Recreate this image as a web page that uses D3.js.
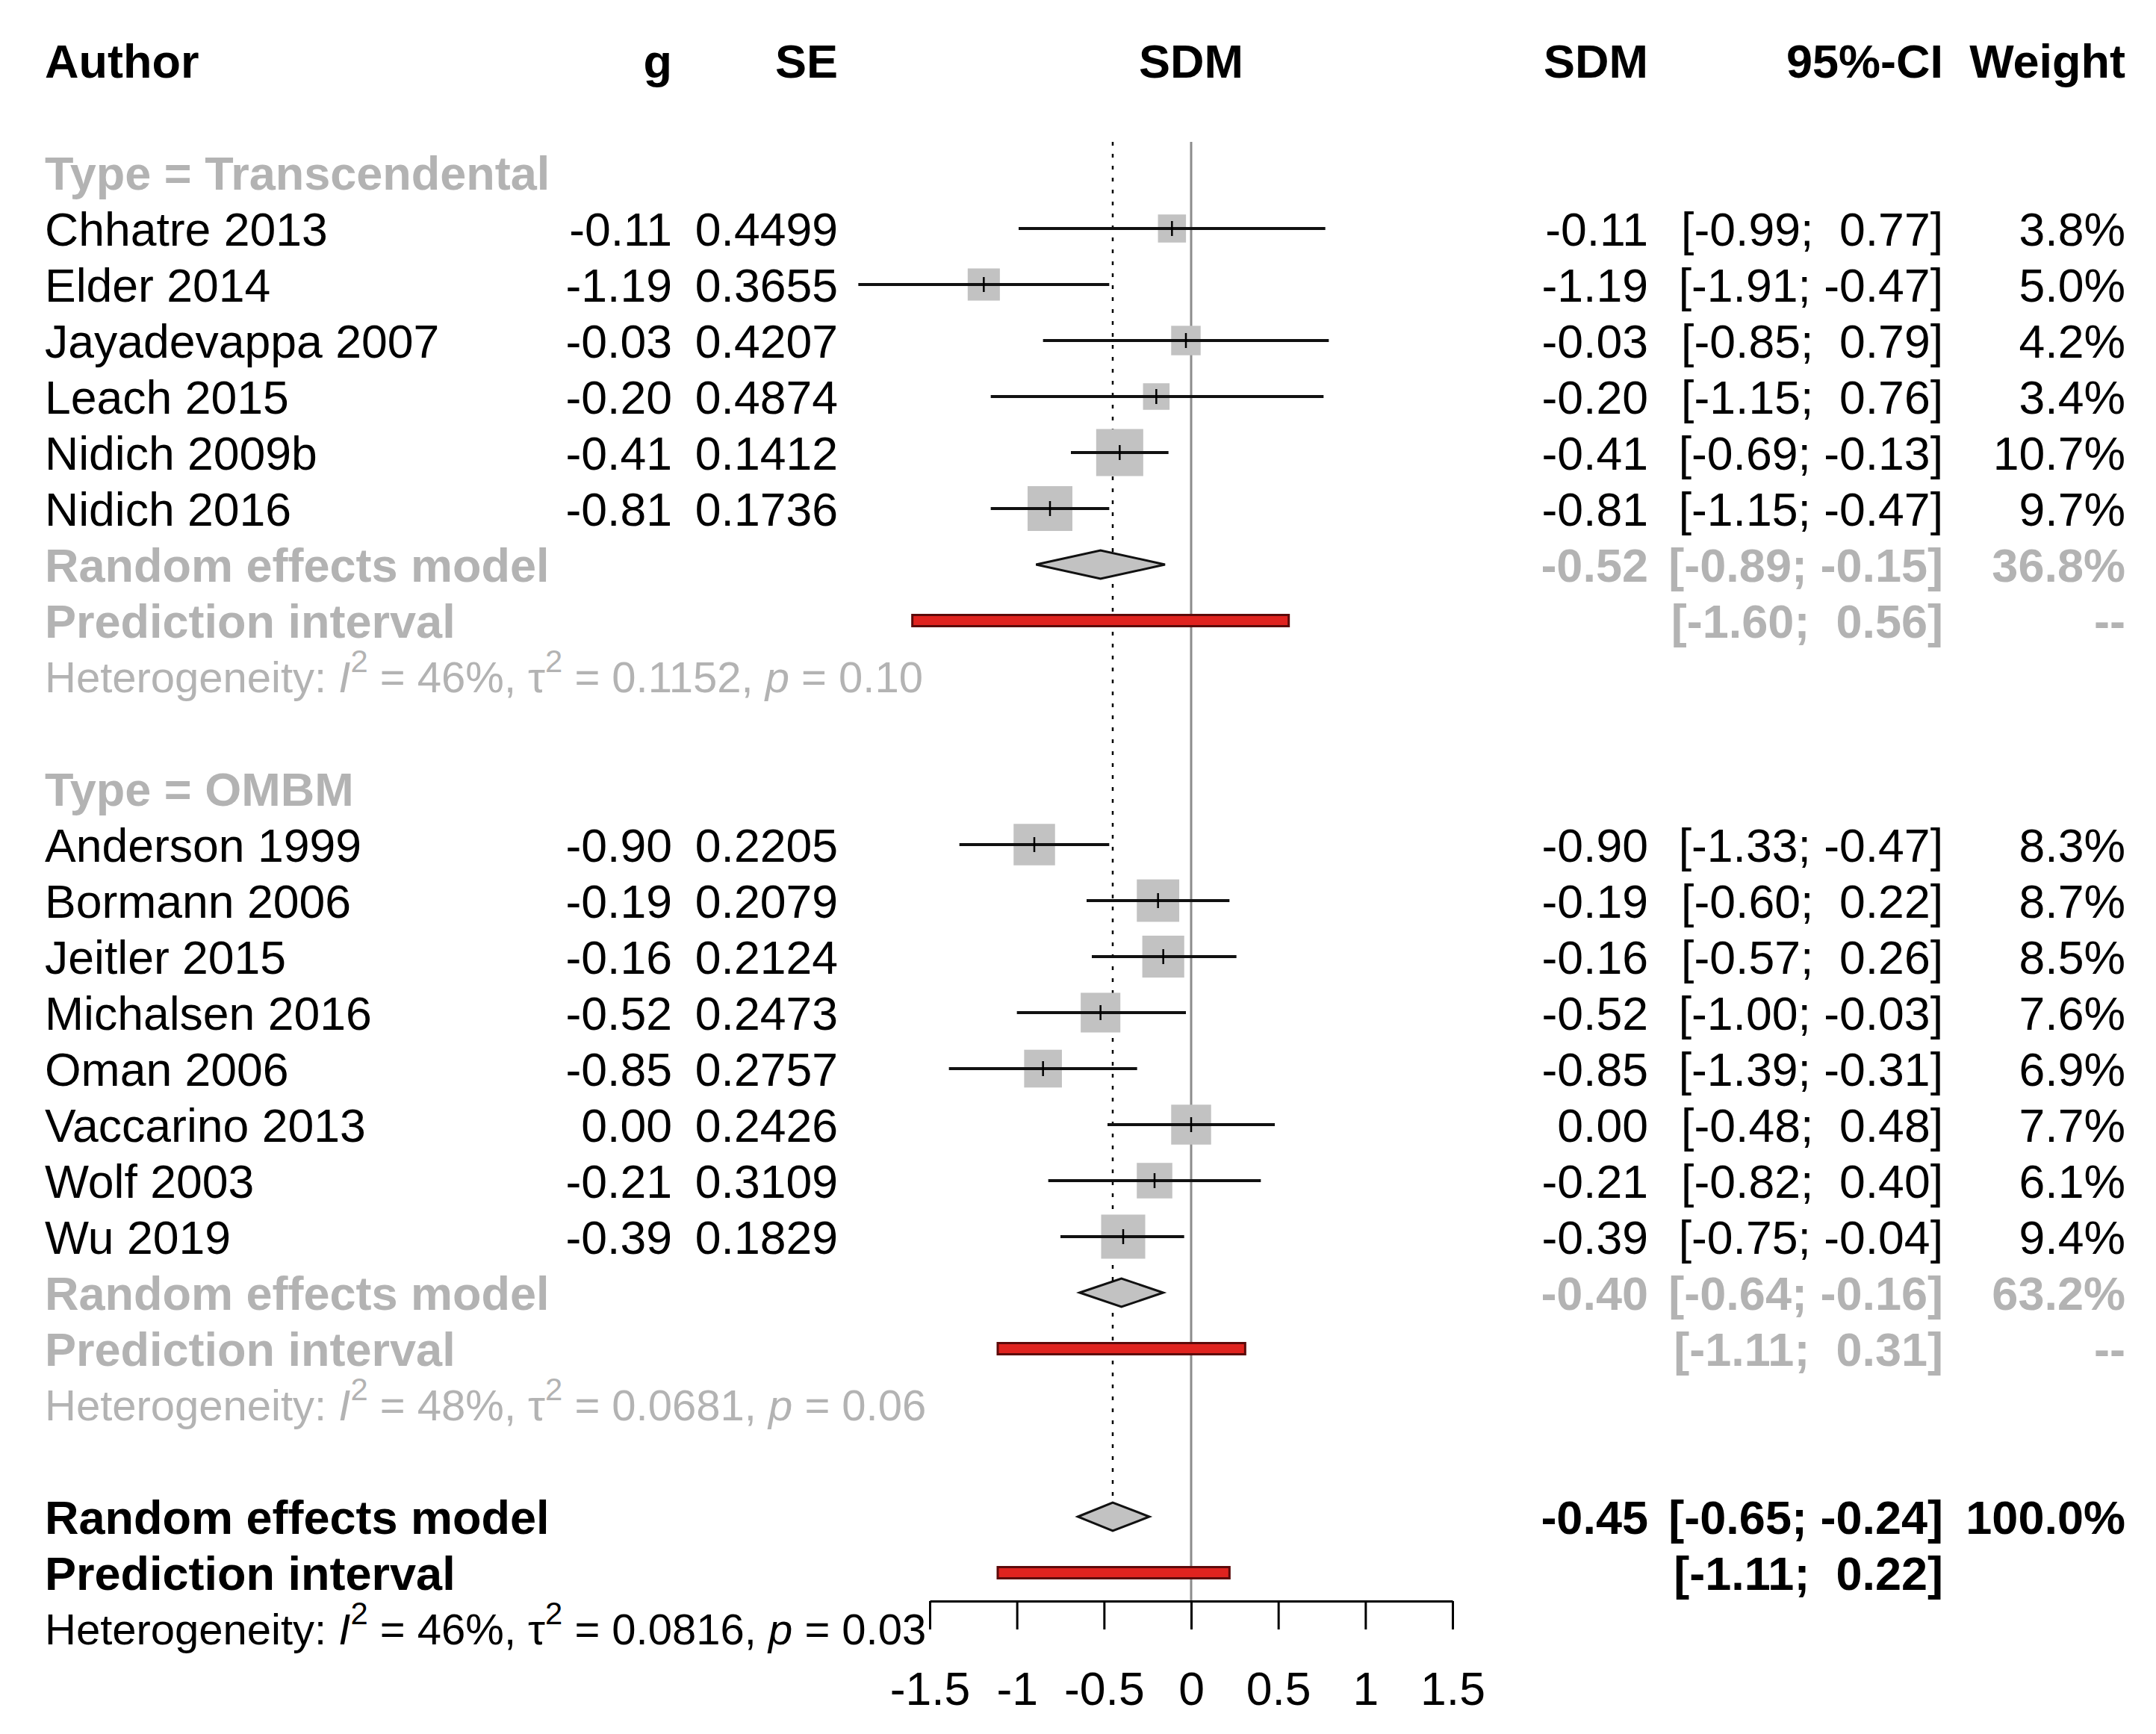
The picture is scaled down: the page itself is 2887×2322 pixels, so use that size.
<!DOCTYPE html>
<html>
<head>
<meta charset="utf-8">
<script src="https://cdn.jsdelivr.net/npm/d3@7"></script>
<style>
  body { margin: 0; background: #fff; }
  text { font-family: "Liberation Sans", Arial, sans-serif; white-space: pre; }
</style>
</head>
<body>
<svg id="forest"></svg>
<script>
// study level data
var authors = ["Chhatre 2013", "Elder 2014", "Jayadevappa 2007", "Leach 2015", "Nidich 2009b", "Nidich 2016",
               "Anderson 1999", "Bormann 2006", "Jeitler 2015", "Michalsen 2016", "Oman 2006", "Vaccarino 2013", "Wolf 2003", "Wu 2019"];
var gVals   = [-0.11, -1.19, -0.03, -0.20, -0.41, -0.81, -0.90, -0.19, -0.16, -0.52, -0.85, 0.00, -0.21, -0.39];
var seVals  = [0.4499, 0.3655, 0.4207, 0.4874, 0.1412, 0.1736, 0.2205, 0.2079, 0.2124, 0.2473, 0.2757, 0.2426, 0.3109, 0.1829];
var ciLow   = [-0.99, -1.91, -0.85, -1.15, -0.69, -1.15, -1.33, -0.60, -0.57, -1.00, -1.39, -0.48, -0.82, -0.75];
var ciHigh  = [0.77, -0.47, 0.79, 0.76, -0.13, -0.47, -0.47, 0.22, 0.26, -0.03, -0.31, 0.48, 0.40, -0.04];
var weights = [3.8, 5.0, 4.2, 3.4, 10.7, 9.7, 8.3, 8.7, 8.5, 7.6, 6.9, 7.7, 6.1, 9.4];
var groupOf = [0, 0, 0, 0, 0, 0, 1, 1, 1, 1, 1, 1, 1, 1];

// subgroup summaries
var groupNames  = ["Transcendental", "OMBM"];
var groupEst    = [-0.52, -0.40];
var groupLow    = [-0.89, -0.64];
var groupHigh   = [-0.15, -0.16];
var groupWeight = [36.8, 63.2];
var groupPredLo = [-1.60, -1.11];
var groupPredHi = [0.56, 0.31];
var groupI2     = ["46%", "48%"];
var groupTau2   = ["0.1152", "0.0681"];
var groupP      = ["0.10", "0.06"];

// overall
var overallEst = -0.45, overallLow = -0.65, overallHigh = -0.24;
var overallPred = [-1.11, 0.22];
var overallHet = ["46%", "0.0816", "0.03"];

var xTicks = [-1.5, -1, -0.5, 0, 0.5, 1, 1.5];

var W = 2887, H = 2322;
var fs = 62.5, fsBold = 63, fsHet = 58;
var grey = "#b3b3b3";

var svg = d3.select("#forest").attr("width", W).attr("height", H);
svg.append("rect").attr("width", W).attr("height", H).attr("fill", "#fff");

var x = d3.scaleLinear().domain([-1.5, 1.5]).range([1245, 1945]);
var y = d3.scaleLinear().domain([0, 28]).range([81, 2181]);

// column anchors
var colAuthor = 60, colG = 900, colSE = 1122, colSDM = 2207, colCI = 2602, colW = 2846;
var axisY = 2144;

function fmt2(v) { return d3.format(".2f")(v).replace("\u2212", "-"); }
function pad5(v) { var s = fmt2(v); return s.length < 5 ? " " + s : s; }
function ciStr(lo, hi) { return "[" + pad5(lo) + "; " + pad5(hi) + "]"; }

function txt(xp, row, s, opt) {
  opt = opt || {};
  var size = opt.bold ? fsBold : fs;
  return svg.append("text")
    .attr("x", xp)
    .attr("y", y(row) + 0.36 * size)
    .attr("text-anchor", opt.anchor || "start")
    .attr("font-size", size)
    .attr("font-weight", opt.bold ? "bold" : "normal")
    .attr("fill", opt.color || "#000")
    .text(s);
}

function hetText(row, i2, tau2, p, color) {
  var t = svg.append("text")
    .attr("x", colAuthor)
    .attr("y", y(row) + 0.36 * fsHet)
    .attr("font-size", fsHet)
    .attr("fill", color);
  t.append("tspan").text("Heterogeneity: ");
  t.append("tspan").attr("font-style", "italic").text("I");
  t.append("tspan").attr("font-size", fsHet * 0.72).attr("dy", -27).text("2");
  t.append("tspan").attr("dy", 27).text(" = " + i2 + ", \u03c4");
  t.append("tspan").attr("font-size", fsHet * 0.72).attr("dy", -27).text("2");
  t.append("tspan").attr("dy", 27).text(" = " + tau2 + ", ");
  t.append("tspan").attr("font-style", "italic").text("p");
  t.append("tspan").text(" = " + p);
}

// header
txt(colAuthor, 0, "Author", {bold: true});
txt(colG, 0, "g", {bold: true, anchor: "end"});
txt(colSE, 0, "SE", {bold: true, anchor: "end"});
txt(x(0), 0, "SDM", {bold: true, anchor: "middle"});
txt(colSDM, 0, "SDM", {bold: true, anchor: "end"});
txt(colCI, 0, "95%-CI", {bold: true, anchor: "end"});
txt(colW, 0, "Weight", {bold: true, anchor: "end"});

// reference lines
var topY = 190;
svg.append("line")
  .attr("x1", x(0)).attr("x2", x(0))
  .attr("y1", topY).attr("y2", axisY)
  .attr("stroke", "#8c8c8c").attr("stroke-width", 3);
svg.append("line")
  .attr("x1", x(overallEst)).attr("x2", x(overallEst))
  .attr("y1", topY).attr("y2", y(26))
  .attr("stroke", "#000").attr("stroke-width", 2.5)
  .attr("stroke-dasharray", "5,11");

// row layout
var studyRow = [], row = 2, groupRows = [];
groupNames.forEach(function(gn, gi) {
  var r0 = row;
  row++;
  authors.forEach(function(a, i) {
    if (groupOf[i] === gi) { studyRow[i] = row; row++; }
  });
  groupRows.push({label: r0, rem: row, pi: row + 1, het: row + 2});
  row += 4;
});
var overallRow = row;

var maxW = d3.max(weights);
var sq = d3.scaleSqrt().domain([0, maxW]).range([0, 63]);

function diamond(row, est, lo, hi) {
  var yc = y(row), h = 19;
  svg.append("path")
    .attr("d", "M" + x(lo) + "," + yc + "L" + x(est) + "," + (yc - h) + "L" + x(hi) + "," + yc + "L" + x(est) + "," + (yc + h) + "Z")
    .attr("fill", "#c2c2c2").attr("stroke", "#111").attr("stroke-width", 3);
}
function predBar(row, lo, hi) {
  svg.append("rect")
    .attr("x", x(lo)).attr("y", y(row) - 7.5)
    .attr("width", x(hi) - x(lo)).attr("height", 15)
    .attr("fill", "#e0231f").attr("stroke", "#5c0a0a").attr("stroke-width", 3);
}

// studies
authors.forEach(function(a, i) {
  var r = studyRow[i], yc = y(r), s = sq(weights[i]);
  txt(colAuthor, r, a);
  txt(colG, r, fmt2(gVals[i]), {anchor: "end"});
  txt(colSE, r, d3.format(".4f")(seVals[i]), {anchor: "end"});
  txt(colSDM, r, fmt2(gVals[i]), {anchor: "end"});
  txt(colCI, r, ciStr(ciLow[i], ciHigh[i]), {anchor: "end"});
  txt(colW, r, d3.format(".1f")(weights[i]) + "%", {anchor: "end"});

  svg.append("rect")
    .attr("x", x(gVals[i]) - s / 2).attr("y", yc - s / 2)
    .attr("width", s).attr("height", s)
    .attr("fill", "#c2c2c2");
  svg.append("line")
    .attr("x1", x(ciLow[i])).attr("x2", x(ciHigh[i]))
    .attr("y1", yc).attr("y2", yc)
    .attr("stroke", "#111").attr("stroke-width", 3.8);
  svg.append("line")
    .attr("x1", x(gVals[i])).attr("x2", x(gVals[i]))
    .attr("y1", yc - 10).attr("y2", yc + 10)
    .attr("stroke", "#000").attr("stroke-width", 2.5);
});

// subgroups
groupRows.forEach(function(gr, gi) {
  txt(colAuthor, gr.label, "Type = " + groupNames[gi], {bold: true, color: grey});
  txt(colAuthor, gr.rem, "Random effects model", {bold: true, color: grey});
  txt(colAuthor, gr.pi, "Prediction interval", {bold: true, color: grey});
  txt(colSDM, gr.rem, fmt2(groupEst[gi]), {bold: true, color: grey, anchor: "end"});
  txt(colCI, gr.rem, ciStr(groupLow[gi], groupHigh[gi]), {bold: true, color: grey, anchor: "end"});
  txt(colW, gr.rem, d3.format(".1f")(groupWeight[gi]) + "%", {bold: true, color: grey, anchor: "end"});
  txt(colCI, gr.pi, ciStr(groupPredLo[gi], groupPredHi[gi]), {bold: true, color: grey, anchor: "end"});
  txt(colW, gr.pi, "--", {bold: true, color: grey, anchor: "end"});
  hetText(gr.het, groupI2[gi], groupTau2[gi], groupP[gi], grey);
  diamond(gr.rem, groupEst[gi], groupLow[gi], groupHigh[gi]);
  predBar(gr.pi, groupPredLo[gi], groupPredHi[gi]);
});

// overall
txt(colAuthor, overallRow, "Random effects model", {bold: true});
txt(colAuthor, overallRow + 1, "Prediction interval", {bold: true});
txt(colSDM, overallRow, fmt2(overallEst), {bold: true, anchor: "end"});
txt(colCI, overallRow, ciStr(overallLow, overallHigh), {bold: true, anchor: "end"});
txt(colW, overallRow, "100.0%", {bold: true, anchor: "end"});
txt(colCI, overallRow + 1, ciStr(overallPred[0], overallPred[1]), {bold: true, anchor: "end"});
hetText(overallRow + 2, overallHet[0], overallHet[1], overallHet[2], "#000");
diamond(overallRow, overallEst, overallLow, overallHigh);
predBar(overallRow + 1, overallPred[0], overallPred[1]);

// x axis
var axis = svg.append("g")
  .attr("transform", "translate(0," + axisY + ")")
  .call(d3.axisBottom(x).tickValues(xTicks).tickSize(38).tickSizeOuter(0).tickPadding(57)
    .tickFormat(function(d) { return String(d); }));
axis.select(".domain").attr("stroke", "#000").attr("stroke-width", 3);
axis.selectAll(".tick line").attr("stroke", "#000").attr("stroke-width", 3);
axis.selectAll(".tick text")
  .attr("font-size", fs)
  .attr("font-family", "Liberation Sans, Arial, sans-serif")
  .attr("fill", "#000");
</script>
</body>
</html>
